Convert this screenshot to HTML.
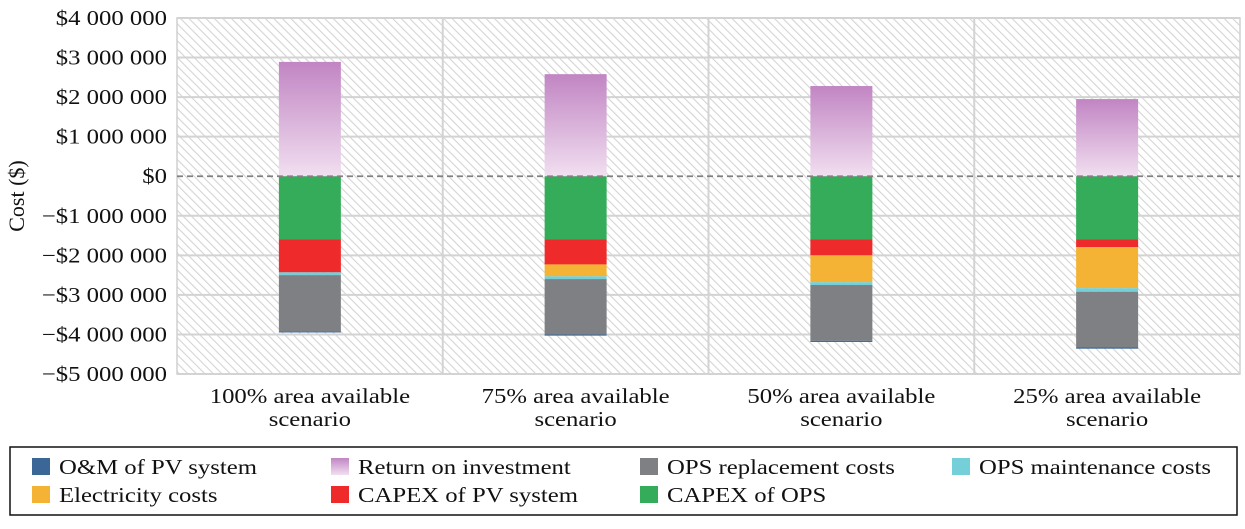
<!DOCTYPE html>
<html><head><meta charset="utf-8">
<style>
body{margin:0;background:#fff;}
svg text{font-family:"Liberation Serif",serif;fill:#111;}
</style></head>
<body>
<svg id="chart" width="1245" height="524" viewBox="0 0 1245 524" xmlns="http://www.w3.org/2000/svg">
<defs>
<pattern id="hatch" patternUnits="userSpaceOnUse" width="6" height="6" patternTransform="rotate(-45)">
<rect width="6" height="6" fill="#fff"/>
<line x1="0" y1="0" x2="0" y2="6" stroke="#d4d4d4" stroke-width="2.2"/>
</pattern>
<linearGradient id="roi" x1="0" y1="0" x2="0" y2="1">
<stop offset="0" stop-color="#c185c3"/><stop offset="1" stop-color="#f1dff0"/>
</linearGradient>
</defs>
<g id="plot"></g>
<g id="legend"></g>
</svg>
<script>
const categories = ["100% area available|scenario","75% area available|scenario","50% area available|scenario","25% area available|scenario"];
const roi = [2.89, 2.58, 2.28, 1.95];
const capexOps = [1.60, 1.60, 1.60, 1.60];
const capexPv = [0.83, 0.63, 0.40, 0.19];
const electricity = [0.0, 0.30, 0.68, 1.04];
const opsMaint = [0.07, 0.07, 0.07, 0.09];
const opsRepl = [1.42, 1.40, 1.41, 1.41];
const omPv = [0.03, 0.03, 0.03, 0.03];
const yTicks = [4,3,2,1,0,-1,-2,-3,-4,-5];
const yTickLabels = ["$4 000 000","$3 000 000","$2 000 000","$1 000 000","$0","\u2212$1 000 000","\u2212$2 000 000","\u2212$3 000 000","\u2212$4 000 000","\u2212$5 000 000"];

const NS="http://www.w3.org/2000/svg";
const L=177,R=1240,T=18,B=374,yMax=4,yMin=-5;
const y=v=>T+(yMax-v)/(yMax-yMin)*(B-T);
const bandW=(R-L)/categories.length;
const xc=i=>L+bandW*(i+0.5);
const barW=62;
const SX=1.15, FS=21.5;
const plot=document.getElementById('plot');
function mk(tag,attrs,parent){const e=document.createElementNS(NS,tag);for(const k in attrs)e.setAttribute(k,attrs[k]);parent.appendChild(e);return e;}
function txt(x,yy,anchor,parent){return mk('text',{x:0,y:0,'text-anchor':anchor,'font-size':FS,transform:`translate(${x},${yy}) scale(${SX},1)`},parent);}

const bg=mk('rect',{x:L,y:T,width:R-L,height:B-T,fill:'url(#hatch)',stroke:'#d0d0d0','stroke-width':1.5},plot);


yTicks.forEach((t,i)=>{
  if(t!==0){const g=mk('line',{x1:L,x2:R,y1:y(t),y2:y(t),stroke:'#d3d3d3','stroke-width':2},plot);
  
  }
  const tx=txt(L-10,y(t)+7,'end',plot);
  tx.textContent=yTickLabels[i];
  
  
});
for(let i=1;i<categories.length;i++){
  const v=mk('line',{x1:L+bandW*i,x2:L+bandW*i,y1:T,y2:B,stroke:'#d3d3d3','stroke-width':2},plot);
  
  
}
const yt=mk('text',{x:0,y:0,'text-anchor':'middle','font-size':22,transform:`translate(24,${(T+B)/2}) rotate(-90)`},plot);
yt.textContent="Cost ($)";



const negSeries=[[capexOps,'#35ac5a','capex-ops'],[capexPv,'#ee2a2a','capex-pv'],[electricity,'#f4b334','electricity'],[opsMaint,'#74cfd8','ops-maintenance'],[opsRepl,'#7e8084','ops-replacement'],[omPv,'#3b6796','om-pv']];
categories.forEach((c,i)=>{
  const x0=xc(i)-barW/2;
  const r=mk('rect',{x:x0,y:y(roi[i]),width:barW,height:y(0)-y(roi[i]),fill:'url(#roi)'},plot);
  
  
  let cum=0;
  negSeries.forEach(([arr,col,nm])=>{
    const top=y(-cum),bot=y(-(cum+arr[i]));cum+=arr[i];
    if(arr[i]<=0)return;
    const s=mk('rect',{x:x0,y:top,width:barW,height:bot-top,fill:col},plot);
    
    
  });
  const parts=c.split('|');
  parts.forEach((p,j)=>{
    const t=txt(xc(i),403+j*23,'middle',plot);
    t.textContent=p;
    
    
  });
});
const zl=mk('line',{x1:L,x2:R,y1:y(0),y2:y(0),stroke:'#808080','stroke-width':1.8,'stroke-dasharray':'6,4'},plot);



const leg=document.getElementById('legend');
const lb=mk('rect',{x:10,y:447,width:1227,height:68,fill:'#fff',stroke:'#111','stroke-width':1.5},leg);


const items=[["O&M of PV system","#3b6796",32,467],["Return on investment","url(#roi)",331,467],["OPS replacement costs","#7e8084",640,467],["OPS maintenance costs","#74cfd8",952,467],["Electricity costs","#f4b334",32,495],["CAPEX of PV system","#ee2a2a",331,495],["CAPEX of OPS","#35ac5a",640,495]];
items.forEach(([lab,col,x,yy])=>{
  const g=mk('g',{},leg);
  
  
  mk('rect',{x:x,y:yy-9,width:18,height:17,fill:col},g);
  const t=txt(x+27,yy+7,'start',g);
  t.textContent=lab;
});
</script>
</body></html>
